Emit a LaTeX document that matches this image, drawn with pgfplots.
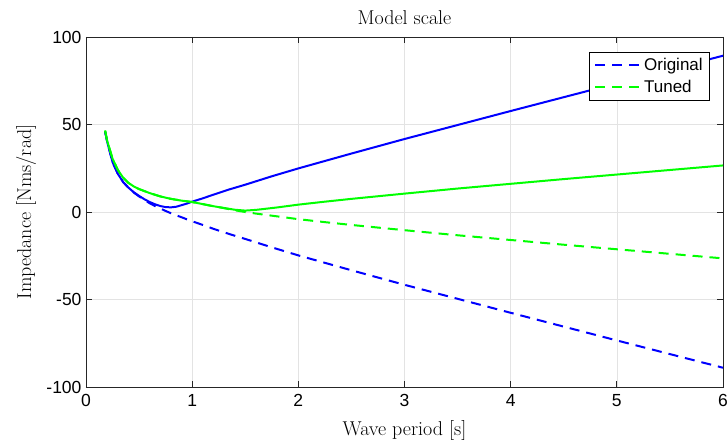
\documentclass[border=0pt]{standalone}
\usepackage{pgfplots}
\pgfplotsset{compat=1.18}
\usepackage{fontspec}
\newfontfamily\arial{Liberation Sans}
\usetikzlibrary{calc}
\definecolor{mblue}{rgb}{0,0,1}
\definecolor{mgreen}{rgb}{0,1,0}
\definecolor{axgray}{rgb}{0.15,0.15,0.15}

\pgfplotstableread{
T v
0.18 46
0.2 40
0.25 28.5
0.3 21.8
0.35 17.1
0.4 13.9
0.45 11.3
0.5 9.2
0.55 7.3
0.6 5.7
0.65 4.4
0.7 3.4
0.75 2.8
0.8 2.65
0.85 3.0
0.9 3.9
0.95 4.8
1.0 5.9
1.1 7.8
1.2 9.9
1.35 12.9
1.5 15.6
1.75 20.4
2.0 24.9
2.5 33.4
3.0 41.7
3.5 49.7
4.0 57.7
4.5 65.6
5.0 73.5
5.5 81.4
6.0 89.3
}\origabs

\pgfplotstableread{
T v
0.18 46
0.2 40
0.25 28.5
0.3 21.8
0.35 17.1
0.4 13.8
0.45 11.1
0.5 8.9
0.55 6.9
0.6 5.0
0.65 3.4
0.7 2.0
0.75 0.6
0.8 -0.7
0.85 -1.9
0.9 -3.0
0.95 -4.2
1.0 -5.3
1.1 -7.4
1.2 -9.6
1.35 -12.6
1.5 -15.4
1.75 -20.2
2.0 -24.8
2.5 -33.3
3.0 -41.6
3.5 -49.6
4.0 -57.6
4.5 -65.5
5.0 -73.4
5.5 -81.2
6.0 -89.0
}\origsig

\pgfplotstableread{
T v
0.18 46.5
0.2 40.5
0.25 30.5
0.3 24.0
0.35 19.6
0.4 16.6
0.45 14.6
0.5 13.1
0.6 10.8
0.7 8.9
0.8 7.5
0.9 6.5
1.0 5.7
1.1 4.5
1.2 3.3
1.3 2.3
1.4 1.3
1.5 0.8
1.6 1.2
1.7 1.9
1.8 2.6
2.0 4.2
2.25 5.9
2.5 7.5
3.0 10.5
3.5 13.4
4.0 16.1
4.5 18.8
5.0 21.4
5.5 24.0
6.0 26.6
}\tunedabs

\pgfplotstableread{
T v
0.18 46.5
0.2 40.5
0.25 30.5
0.3 24.0
0.35 19.6
0.4 16.6
0.45 14.6
0.5 13.1
0.6 10.8
0.7 8.9
0.8 7.5
0.9 6.5
1.0 5.7
1.1 4.5
1.2 3.3
1.3 2.2
1.4 1.0
1.5 0.0
1.6 -0.9
1.7 -1.7
1.8 -2.5
2.0 -4.1
2.25 -5.8
2.5 -7.4
3.0 -10.4
3.5 -13.3
4.0 -16.0
4.5 -18.7
5.0 -21.3
5.5 -23.9
6.0 -26.5
}\tunedsig

\begin{document}
\begin{tikzpicture}
\begin{axis}[
  width=637pt, height=350pt, scale only axis,
  xmin=0, xmax=6, ymin=-100, ymax=100,
  xtick={0,1,2,3,4,5,6}, xticklabels={0,1,2,3,4,5,6},
  ytick={-100,-50,0,50,100}, yticklabels={-100,-50,0,50,100},
  tick align=inside, major tick length=6pt,
  grid=major, grid style={color=black!11, line width=0.6pt},
  axis line style={color=axgray, line width=0.8pt},
  tick style={color=axgray, line width=0.8pt},
  ticklabel style={font=\arial\fontsize{17.5}{20}\selectfont, text=black},
  xticklabel style={yshift=-4pt},
  yticklabel style={xshift=-1pt},
  title={Model scale},
  title style={at={(axis description cs:0.5,1.0343)}, anchor=base, yshift=-6pt, font=\fontsize{20}{24}\selectfont},
  xlabel={Wave period [s]},
  xlabel style={at={(axis description cs:0.5,-0.14)}, anchor=base, font=\fontsize{20}{24}\selectfont},
  ylabel={Impedance [Nms/rad]},
  ylabel style={at={(axis description cs:-0.0863,0.5)}, anchor=base, font=\fontsize{20}{24}\selectfont},
  legend cell align=left,
  legend style={at={(axis description cs:0.9796,0.957)}, anchor=north east,
    draw=black, line width=0.6pt, fill=white,
    font=\arial\fontsize{17}{19}\selectfont,
    inner xsep=5pt, inner ysep=4pt, row sep=4pt},
  legend image code/.code={\draw[#1] (0pt,0pt) -- (46pt,0pt);},
]
\coordinate (bl) at (rel axis cs:0,0);
\coordinate (tr) at (rel axis cs:1,1);
\addplot[mblue, line width=2pt, forget plot] table[x=T,y=v] {\origabs};
\addplot[mblue, line width=2pt, dash pattern=on 10pt off 7pt, forget plot] table[x=T,y=v] {\origsig};
\addplot[mgreen, line width=2pt, forget plot] table[x=T,y=v] {\tunedabs};
\addplot[mgreen, line width=2pt, dash pattern=on 10pt off 7pt, forget plot] table[x=T,y=v] {\tunedsig};
\addlegendimage{mblue, line width=2pt, dash pattern=on 10pt off 7pt}
\addlegendentry{Original}
\addlegendimage{mgreen, line width=2pt, dash pattern=on 10pt off 7pt}
\addlegendentry{Tuned}
\end{axis}
\pgfresetboundingbox
\path[use as bounding box] ($(bl)+(-86pt,-56pt)$) rectangle ($(tr)+(5pt,37pt)$);
\end{tikzpicture}
\end{document}
